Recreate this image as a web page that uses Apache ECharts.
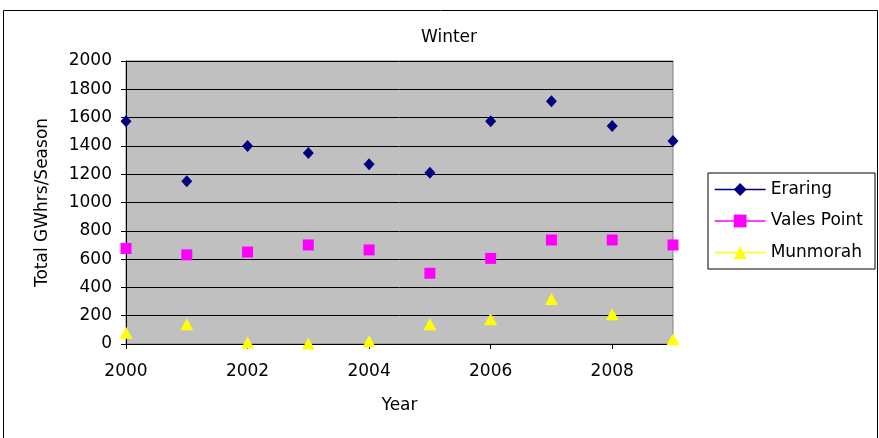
<!DOCTYPE html>
<html>
<head>
<meta charset="utf-8">
<script src="https://cdn.jsdelivr.net/npm/echarts@6/dist/echarts.min.js"></script>
<style>
html, body { margin: 0; padding: 0; background: #fff; }
#chart { width: 879px; height: 438px; }
</style>
</head>
<body>
<div id="chart"></div>
<script>
var years = [2000, 2001, 2002, 2003, 2004, 2005, 2006, 2007, 2008, 2009];
var eraring = [1575, 1150, 1400, 1350, 1270, 1210, 1575, 1715, 1540, 1435];
var valesPoint = [675, 630, 650, 700, 665, 500, 605, 735, 735, 700];
var munmorah = [80, 140, 10, 3, 20, 140, 175, 318, 210, 33];

function pairs(vals)
{
	var out = [];
	for (var i = 0; i < years.length; i++) {
		out.push([years[i], vals[i]]);
	}
	return out;
}

function makeSeries(name, vals, color, symbol, size)
{
	return {
		name: name,
		type: 'line',
		data: pairs(vals),
		symbol: symbol,
		symbolSize: size,
		showAllSymbol: true,
		itemStyle: { color: color, borderWidth: 0 },
		lineStyle: { color: color, opacity: 0 },
		emphasis: { disabled: true },
		animation: false
	};
}

var font = 'DejaVu Sans, Liberation Sans, sans-serif';
var plain = function (v) { return String(v); };

var option = {
	backgroundColor: '#fff',
	animation: false,
	title: {
		text: 'Winter',
		left: 444,
		textAlign: 'center',
		top: 24,
		textStyle: { fontFamily: font, fontSize: 17, fontWeight: 'normal', color: '#000' }
	},
	grid: {
		left: 126, right: 206, top: 61, bottom: 94,
		show: true,
		backgroundColor: '#C0C0C0',
		borderColor: '#808080',
		borderWidth: 1
	},
	legend: {
		orient: 'vertical',
		left: 708, top: 173,
		padding: [8, 12, 8, 6],
		itemWidth: 51,
		itemHeight: 16,
		itemGap: 14.5,
		borderColor: '#000',
		borderWidth: 1,
		borderRadius: 0,
		backgroundColor: '#fff',
		lineStyle: { opacity: 1, width: 1.3 },
		textStyle: { fontFamily: font, fontSize: 17, color: '#000' },
		data: ['Eraring', 'Vales Point', 'Munmorah']
	},
	xAxis: {
		type: 'value',
		min: 2000, max: 2009, interval: 2,
		name: 'Year',
		nameLocation: 'middle',
		nameGap: 53,
		nameTextStyle: { fontFamily: font, fontSize: 17, color: '#000' },
		axisLine: { show: true, onZero: false, lineStyle: { color: '#000', width: 1 } },
		axisTick: { show: true, inside: false, length: 5, lineStyle: { color: '#000' } },
		axisLabel: { fontFamily: font, fontSize: 17, color: '#000', margin: 19, showMaxLabel: false, formatter: plain },
		splitLine: { show: false }
	},
	yAxis: {
		type: 'value',
		min: 0, max: 2000, interval: 200,
		name: 'Total GWhrs/Season',
		nameLocation: 'middle',
		nameRotate: 90,
		nameGap: 75,
		nameTextStyle: { fontFamily: font, fontSize: 17, color: '#000' },
		axisLine: { show: true, lineStyle: { color: '#000', width: 1 } },
		axisTick: { show: true, inside: false, length: 5, lineStyle: { color: '#000' } },
		axisLabel: { fontFamily: font, fontSize: 17, color: '#000', margin: 14, formatter: plain },
		splitLine: { show: true, lineStyle: { color: '#000', width: 1 } }
	},
	graphic: [{
		type: 'rect',
		shape: { x: 3.5, y: 10.5, width: 874, height: 440 },
		style: { fill: 'none', stroke: '#000', lineWidth: 1 },
		silent: true,
		z: -1
	}],
	series: [
		makeSeries('Eraring', eraring, '#000080', 'diamond', [11, 12]),
		makeSeries('Vales Point', valesPoint, '#FF00FF', 'rect', 11),
		makeSeries('Munmorah', munmorah, '#FFFF00', 'triangle', [13, 12])
	]
};

var myChart = echarts.init(document.getElementById('chart'));
myChart.setOption(option);
</script>
</body>
</html>
